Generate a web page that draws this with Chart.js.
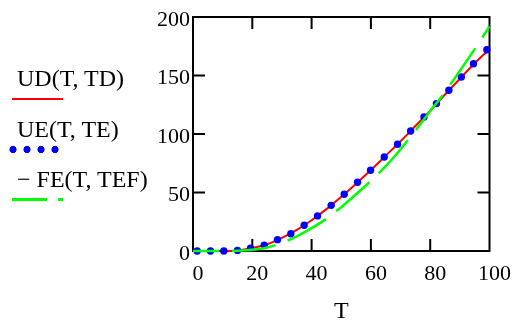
<!DOCTYPE html>
<html>
<head>
<meta charset="utf-8">
<script src="https://cdn.jsdelivr.net/npm/chart.js@4/dist/chart.umd.min.js"></script>
<style>
  html, body { margin: 0; padding: 0; background: #fff; }
  #wrap { position: relative; width: 516px; height: 322px; overflow: hidden; }
  #grafik { position: absolute; left: 0; top: 0; }
  .teks {
    position: absolute; left: 17px;
    font-family: "Liberation Serif", "Times New Roman", serif;
    font-size: 24px; line-height: 1; color: #000; white-space: pre;
  }
  .garis { position: absolute; }
</style>
</head>
<body>
<div id="wrap">
  <canvas id="grafik" width="516" height="322"></canvas>
  <div class="teks" style="top:66px">UD(T, TD)</div>
  <div class="garis" style="left:12px;top:97.5px;width:51px;height:2px;background:#ff0000"></div>
  <div class="teks" style="top:116.5px">UE(T, TE)</div>
  <div class="garis" style="left:6px;top:145.5px;width:56px;height:7px;background:radial-gradient(circle, #0000ff 3.3px, transparent 3.8px) 0 0 / 14px 7px repeat-x"></div>
  <div class="teks" style="top:167px">− FE(T, TEF)</div>
  <div class="garis" style="left:12px;top:198px;width:35px;height:2.5px;background:#00ff00"></div>
  <div class="garis" style="left:58px;top:198px;width:5px;height:2.5px;background:#00ff00"></div>
</div>
<script>
// nilai
const sumbuT = [0, 5, 10, 15, 20, 25, 30, 35, 40, 45, 50, 55, 60, 65, 70, 75, 80, 85, 90, 95, 100];
const nilaiUD = [0, 0, 0, 0.5, 2.6, 5.8, 11.2, 18, 26.3, 35.8, 46.3, 57.5, 69.2, 81.5, 93.8, 106.8, 120, 133.8, 147.2, 160.5, 172.5];
const nilaiFE = [0, 0, 0, 0.2, 1, 3, 7, 12.5, 19.5, 27.5, 37.5, 48.5, 60, 72.5, 87, 103, 119.5, 136, 154, 172.5, 192];
const titikT = [1.4, 5.9, 10.4, 15, 19.4, 24, 28.5, 33, 37.5, 42, 46.6, 51, 55.5, 59.9, 64.5, 69, 73.4, 77.9, 82.1, 86.3, 90.5, 94.6, 99.1];
const nilaiUE = [0, 0, 0, 0.5, 2.3, 4.9, 9.7, 14.8, 22, 30, 39, 48.5, 58.7, 69, 80.4, 91.2, 102.6, 114.5, 126, 137.4, 148.7, 160, 172];
const tickX = [0, 20, 40, 60, 80, 100];
const tickY = [0, 50, 100, 150, 200];

const hurufSerif = "'Liberation Serif', 'Times New Roman', serif";

const pasang = (xs, ys) => xs.map((x, i) => ({ x: x, y: ys[i] }));

// bingkai kotak + tick ke dalam ala Mathcad
const bingkai = {
  id: 'bingkai',
  beforeDatasetsDraw(chart) {
    const { ctx, chartArea: a, scales } = chart;
    const panjang = 12;
    ctx.save();
    ctx.strokeStyle = '#000';
    ctx.lineWidth = 2;
    ctx.strokeRect(a.left, a.top, a.right - a.left, a.bottom - a.top);
    ctx.beginPath();
    tickX.slice(1, -1).forEach(v => {
      const px = scales.x.getPixelForValue(v);
      ctx.moveTo(px, a.bottom); ctx.lineTo(px, a.bottom - panjang);
      ctx.moveTo(px, a.top); ctx.lineTo(px, a.top + panjang);
    });
    tickY.slice(1, -1).forEach(v => {
      const py = scales.y.getPixelForValue(v);
      ctx.moveTo(a.left, py); ctx.lineTo(a.left + panjang, py);
      ctx.moveTo(a.right, py); ctx.lineTo(a.right - panjang, py);
    });
    ctx.stroke();
    ctx.restore();
  }
};

new Chart(document.getElementById('grafik'), {
  type: 'line',
  data: {
    datasets: [
      {
        label: 'FE(T, TEF)',
        data: pasang(sumbuT, nilaiFE),
        borderColor: '#00ff00',
        borderWidth: 2.5,
        borderDash: [44, 13],
        borderDashOffset: 18,
        cubicInterpolationMode: 'monotone',
        pointRadius: 0,
        clip: false
      },
      {
        label: 'UE(T, TE)',
        data: pasang(titikT, nilaiUE),
        showLine: false,
        pointRadius: 3.7,
        pointBackgroundColor: '#0000ff',
        pointBorderWidth: 0,
        clip: false
      },
      {
        label: 'UD(T, TD)',
        data: pasang(sumbuT, nilaiUD),
        borderColor: '#ff0000',
        borderWidth: 2,
        cubicInterpolationMode: 'monotone',
        pointRadius: 0,
        clip: false
      }
    ]
  },
  options: {
    responsive: false,
    animation: false,
    devicePixelRatio: 1,
    layout: { autoPadding: false, padding: { left: 0, top: 17, right: 25, bottom: 0 } },
    plugins: { legend: { display: false }, tooltip: { enabled: false } },
    scales: {
      x: {
        type: 'linear', min: 0, max: 100,
        afterBuildTicks: s => { s.ticks = tickX.map(v => ({ value: v })); },
        afterFit: s => { s.height = 71; },
        grid: { display: false, drawTicks: false },
        border: { display: false },
        ticks: { padding: 10, labelOffset: 5, maxRotation: 0, color: '#000', font: { family: hurufSerif, size: 22 } },
        title: { display: true, text: 'T', color: '#000', padding: 0, font: { family: hurufSerif, size: 24, lineHeight: 0.85 } }
      },
      y: {
        type: 'linear', min: 0, max: 200,
        afterBuildTicks: s => { s.ticks = tickY.map(v => ({ value: v })); },
        afterFit: s => { s.width = 193; },
        grid: { display: false, drawTicks: false },
        border: { display: false },
        ticks: { padding: 3, labelOffset: 3, color: '#000', font: { family: hurufSerif, size: 22 } }
      }
    }
  },
  plugins: [bingkai]
});
</script>
</body>
</html>
